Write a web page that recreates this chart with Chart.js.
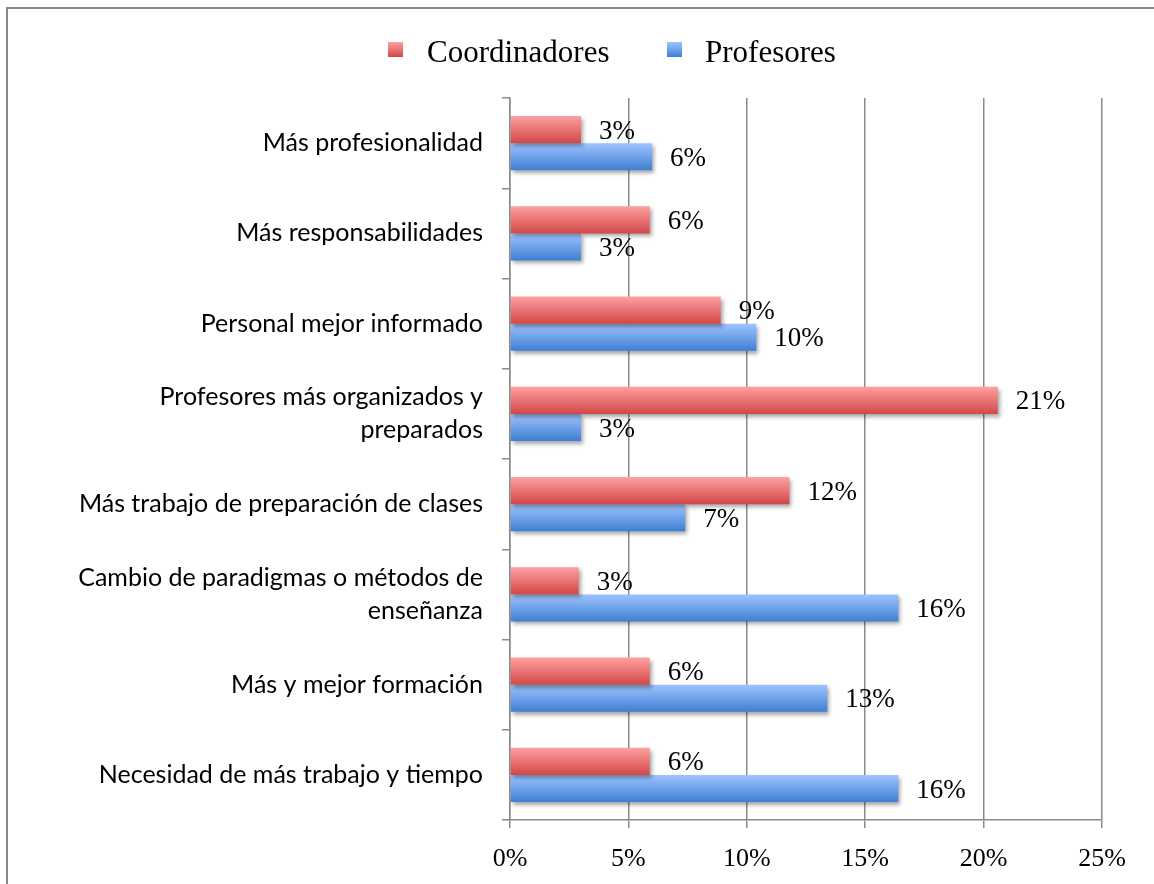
<!DOCTYPE html>
<html lang="es">
<head>
    <meta charset="UTF-8">
    <title>Coordinadores y Profesores</title>
    <script src="https://cdn.jsdelivr.net/npm/chart.js"></script>
    <style>
        body{
            margin: 0;
            background: #fff;
            overflow: hidden;
        }
        #marco{
            position: absolute;
            left: 6px;
            top: 7px;
            width: 1300px;
            height: 1000px;
            border: 2px solid #888;
        }
        #wrap{
            position: absolute;
            left: 0;
            top: 0;
            width: 1154px;
            height: 884px;
        }
        .leyenda{
            position: absolute;
            top: 34px;
            font-family: "Liberation Serif", serif;
            font-size: 31px;
            color: #000;
            line-height: 36px;
        }
        .caja{
            position: absolute;
            width: 15px;
            height: 15px;
            top: 42px;
        }
    </style>
</head>
<body>
    <div id="marco"></div>
    <div id="wrap">
        <canvas id="grafico" width="1154" height="884"></canvas>
    </div>
    <div class="caja" style="left:388px;background:linear-gradient(#ffa0a0,#d24848)"></div>
    <div class="leyenda" style="left:427px">Coordinadores</div>
    <div class="caja" style="left:667px;background:linear-gradient(#9fc4ff,#3f7fd2)"></div>
    <div class="leyenda" style="left:705px">Profesores</div>

    <script>
        const categorias = [
            "Más profesionalidad",
            "Más responsabilidades",
            "Personal mejor informado",
            ["Profesores más organizados y", "preparados"],
            "Más trabajo de preparación de clases",
            ["Cambio de paradigmas o métodos de", "enseñanza"],
            "Más y mejor formación",
            "Necesidad de más trabajo y tiempo"
        ]
        const coordinadores = [3.0, 5.9, 8.9, 20.6, 11.8, 2.9, 5.9, 5.9]
        const profesores = [6.0, 3.0, 10.4, 3.0, 7.4, 16.4, 13.4, 16.4]
        const ticksX = [0, 5, 10, 15, 20, 25]

        const ctx = document.getElementById('grafico').getContext('2d')

        // degradado vertical para cada barra
        function degradado(c, arriba, abajo, mitad) {
            const chart = c.chart
            const y = chart.scales.y
            if (!y || !chart.chartArea) return abajo
            const centro = y.getPixelForValue(c.dataIndex)
            const grosor = (y.height / categorias.length) * 0.6 / 2
            const y0 = mitad === 0 ? centro - grosor : centro
            const g = chart.ctx.createLinearGradient(0, y0, 0, y0 + grosor)
            g.addColorStop(0, arriba)
            g.addColorStop(1, abajo)
            return g
        }

        const sombra = {
            id: 'sombra',
            beforeDatasetsDraw(chart) {
                const c = chart.ctx
                c.save()
                c.shadowColor = 'rgba(0,0,0,0.35)'
                c.shadowBlur = 4
                c.shadowOffsetX = 2
                c.shadowOffsetY = 3
            },
            afterDatasetsDraw(chart) {
                chart.ctx.restore()
            }
        }

        const etiquetas = {
            id: 'etiquetas',
            afterDatasetsDraw(chart) {
                const c = chart.ctx
                c.save()
                c.font = '27px "Liberation Serif"'
                c.fillStyle = '#000'
                c.textAlign = 'left'
                c.textBaseline = 'middle'
                chart.data.datasets.forEach((ds, i) => {
                    chart.getDatasetMeta(i).data.forEach((el, j) => {
                        c.fillText(Math.round(ds.data[j]) + '%', el.x + 18, el.y + 2)
                    })
                })
                c.restore()
            }
        }

        new Chart(ctx, {
            type: 'bar',
            data: {
                labels: categorias,
                datasets: [{
                    label: 'Coordinadores',
                    data: coordinadores,
                    backgroundColor: c => degradado(c, '#ffa0a0', '#d24848', 0),
                    borderWidth: 0
                }, {
                    label: 'Profesores',
                    data: profesores,
                    backgroundColor: c => degradado(c, '#9fc4ff', '#3f7fd2', 1),
                    borderWidth: 0
                }]
            },
            options: {
                indexAxis: 'y',
                responsive: false,
                animation: false,
                categoryPercentage: 0.6,
                barPercentage: 1,
                layout: {
                    padding: { top: 98, right: 52, left: 0, bottom: 0 }
                },
                plugins: {
                    legend: { display: false },
                    tooltip: { enabled: false }
                },
                scales: {
                    x: {
                        min: 0,
                        max: 25,
                        afterBuildTicks: s => { s.ticks = ticksX.map(v => ({ value: v })) },
                        afterFit: s => { s.height = 64 },
                        ticks: {
                            callback: v => v + '%',
                            color: '#000',
                            font: { family: 'Liberation Serif', size: 26 },
                            padding: 16
                        },
                        grid: {
                            color: '#8a8a8a',
                            lineWidth: 1.5,
                            tickLength: 8
                        },
                        border: { color: '#8a8a8a', width: 1.5 }
                    },
                    y: {
                        afterFit: s => { s.width = 510 },
                        ticks: {
                            color: '#000',
                            font: { family: 'Lato', size: 25, lineHeight: 1.32 },
                            padding: 19
                        },
                        grid: {
                            drawOnChartArea: false,
                            color: '#8a8a8a',
                            lineWidth: 1.5,
                            tickLength: 8,
                            offset: true
                        },
                        border: { color: '#8a8a8a', width: 1.5 }
                    }
                }
            },
            plugins: [sombra, etiquetas]
        })
    </script>
</body>
</html>
